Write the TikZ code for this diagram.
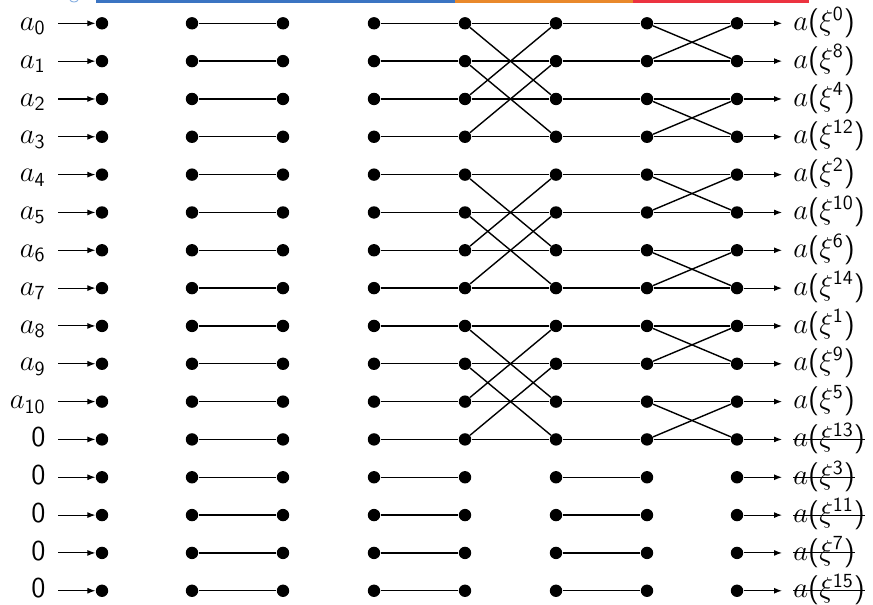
\documentclass[tikz,border=0pt]{standalone}
\usepackage{amsmath}
\usepackage{tikz}
\usetikzlibrary{arrows.meta, positioning}
\definecolor{barBlue}{HTML}{3B74C2}
\definecolor{barOrange}{HTML}{E9892B}
\definecolor{barRed}{HTML}{EC3340}
\definecolor{iconBlue}{HTML}{8DB3E2}

\begin{document}
\begin{tikzpicture}[
    x=0.5pt, y=-0.5pt,
    font=\fontsize{14.5}{17}\selectfont,
    dot/.style={circle, fill, inner sep=0pt, minimum size=6.2pt},
    lbl/.style={inner sep=0pt, text height=10.8pt, text depth=3.6pt},
    wire/.style={line width=0.7pt},
    arrow/.style={-{Latex[length=4pt, width=3pt]}, line width=0.55pt},
]
\useasboundingbox (0,0) rectangle (873,605);

% header bar
\fill[barBlue] (96,0) rectangle (455,2.5);
\fill[barOrange] (455,0) rectangle (633,2.5);
\fill[barRed] (633,0) rectangle (809,2.5);
\draw[iconBlue, line width=0.5pt] (70,0.3) .. controls (72,2.5) and (76,2.5) .. (78,0.3);

% grid of points
\foreach \x [count=\c from 0] in {102,192,283,374,465,556,647,737}
  \foreach \r in {0,...,15}
    \node[dot] (p\c-\r) at (\x, 23.3+37.83*\r) {};

% inputs
\foreach \r in {0,...,10}
  \node[lbl, anchor=east] (in\r) at (46, 23.3+37.83*\r) {$a_{\mathsf{\r}}$};
\foreach \r in {11,...,15}
  \node[lbl, anchor=east] (in\r) at (46, 23.3+37.83*\r) {$\mathsf{0}$};
\foreach \r in {0,...,15}
  \draw[arrow, shorten <=6pt] (in\r) -- (p0-\r);

% outputs, bit reversed
\foreach \e [count=\r from 0] in {0,8,4,12,2,10,6,14,1,9,5,13,3,11,7,15} {
  \node[lbl, anchor=west] (out\r) at (793, 23.3+37.83*\r)
      {$a\textsf{(}\xi^{\mathsf{\e}}\textsf{)}$};
  \draw[arrow, shorten >=5.5pt] (p7-\r) -- (out\r);
}
% unused outputs struck out
\foreach \r in {11,...,15}
  \draw[line width=0.5pt] (out\r.west) -- (out\r.east);

% straight wires
\foreach \r in {0,...,15} {
  \draw[wire] (p1-\r) -- (p2-\r);
  \draw[wire] (p3-\r) -- (p4-\r);
  \draw[wire] (p5-\r) -- (p6-\r);
}
\foreach \r in {0,...,11} {
  \draw[wire] (p4-\r) -- (p5-\r);
  \draw[wire] (p6-\r) -- (p7-\r);
}

% butterflies, span 2
\foreach \b in {0,4,8}
  \foreach \i in {0,1} {
    \pgfmathtruncatemacro\u{\b+\i}
    \pgfmathtruncatemacro\l{\b+\i+2}
    \draw[wire] (p4-\u) -- (p5-\l);
    \draw[wire] (p4-\l) -- (p5-\u);
  }

% butterflies, span 1
\foreach \u in {0,2,...,10} {
  \pgfmathtruncatemacro\l{\u+1}
  \draw[wire] (p6-\u) -- (p7-\l);
  \draw[wire] (p6-\l) -- (p7-\u);
}
\end{tikzpicture}
\end{document}
